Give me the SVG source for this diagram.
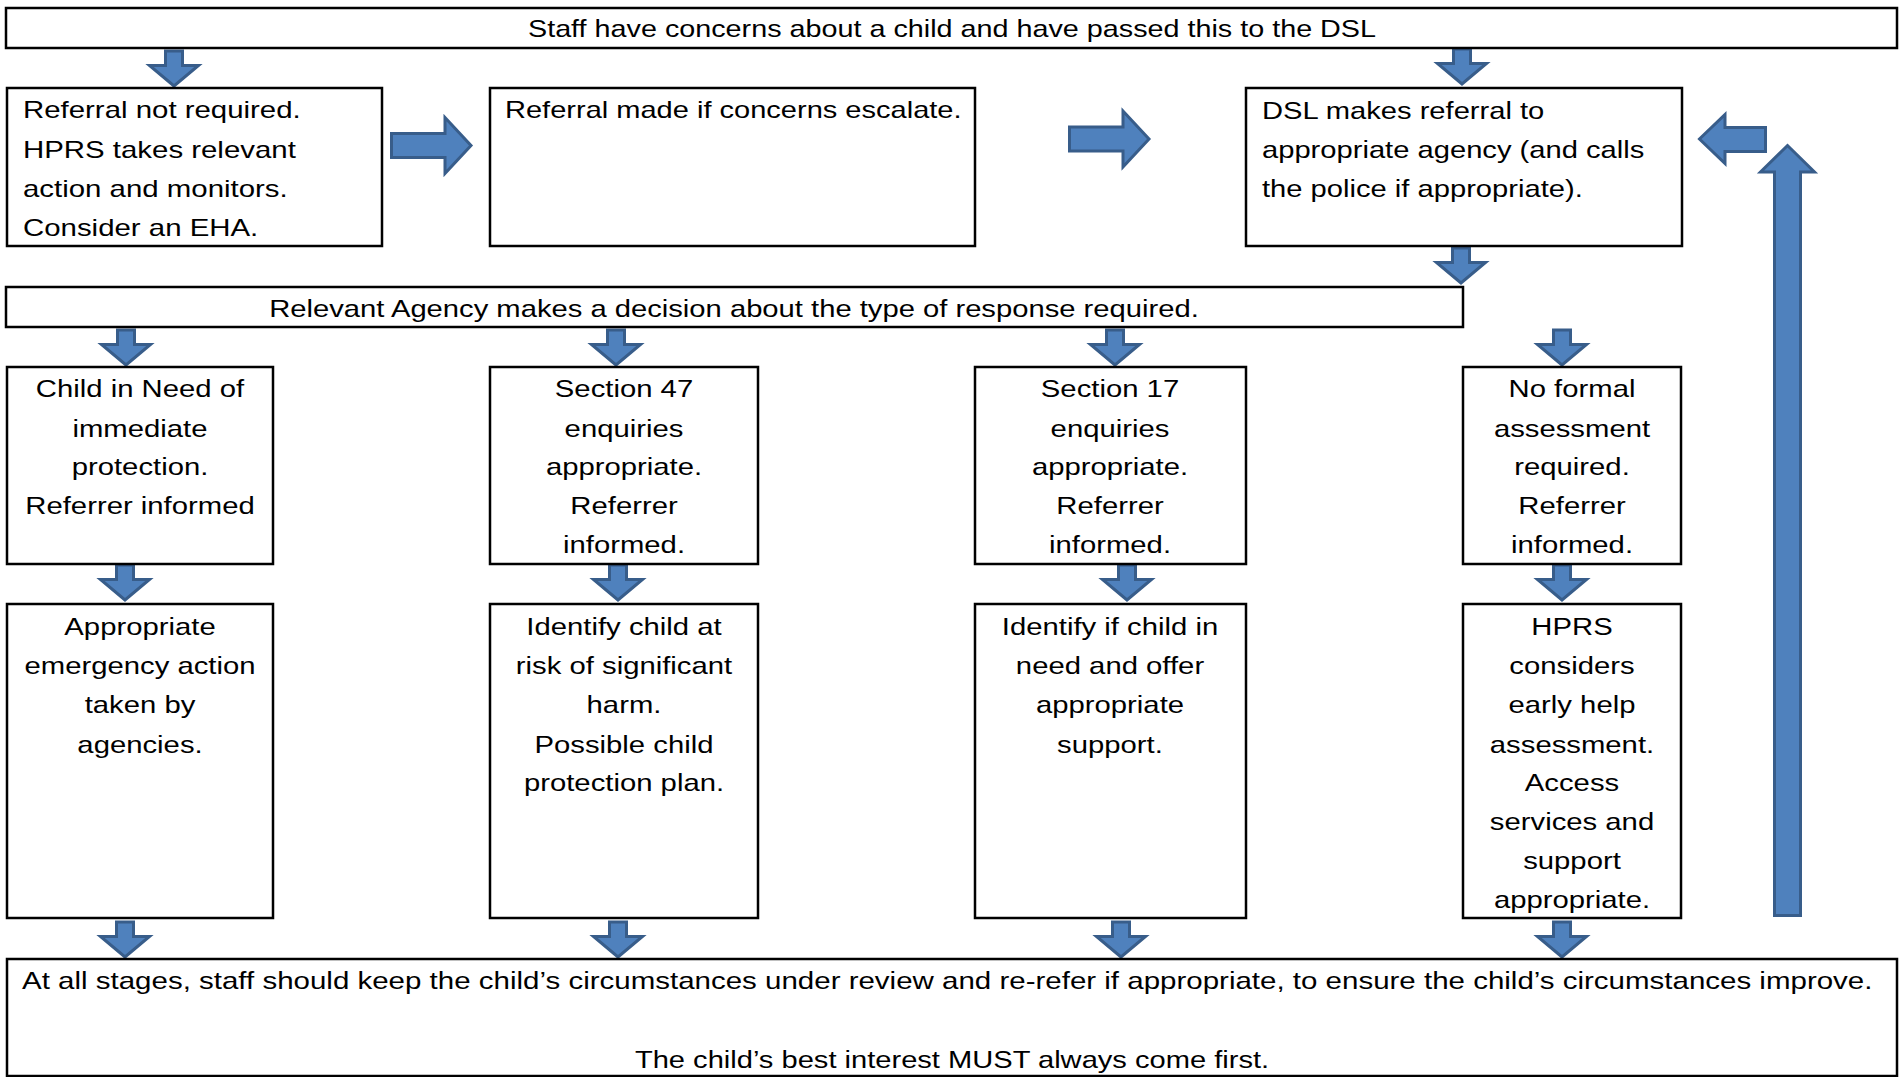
<svg xmlns="http://www.w3.org/2000/svg" width="1899" height="1077" viewBox="0 0 1899 1077">
<style>
.box{fill:#fff;stroke:#000;stroke-width:2.5}
.arr{fill:#4F81BD;stroke:#385D8A;stroke-width:3;stroke-linejoin:miter}
.t{font-family:"Liberation Sans",Arial,sans-serif;font-size:24px;fill:#000}
.c{text-anchor:middle}
</style>
<defs>
<path id="da" d="M-8.5,0 H8.5 V14.5 H24.5 L0,35 L-24.5,14.5 H-8.5 Z"/>
</defs>
<rect width="1899" height="1077" fill="#fff"/>
<g id="connectors" class="arr">
<use href="#da" x="174" y="51"/>
<use href="#da" x="1462" y="49"/>
<use href="#da" x="1461" y="248"/>
<use href="#da" x="126" y="330"/>
<use href="#da" x="616" y="330"/>
<use href="#da" x="1115" y="330"/>
<use href="#da" x="1562" y="330"/>
<use href="#da" x="125" y="565"/>
<use href="#da" x="618" y="565"/>
<use href="#da" x="1127" y="565"/>
<use href="#da" x="1562" y="565"/>
<use href="#da" x="125" y="922"/>
<use href="#da" x="618" y="922"/>
<use href="#da" x="1121" y="922"/>
<use href="#da" x="1562" y="922"/>
<path d="M391.5,133.5 H445 V117.5 L471,145.5 L445,173.5 V157.5 H391.5 Z"/>
<path d="M1069.5,127 H1123 V111 L1149,139 L1123,167 V151 H1069.5 Z"/>
<path d="M1765.5,127.5 H1725 V114.5 L1699.5,139 L1725,163.5 V151.5 H1765.5 Z"/>
<path d="M1774.5,915.5 V172 H1760.5 L1787.5,145.5 L1814.5,172 H1800.5 V915.5 Z"/>
</g>
<g id="n-start">
<rect class="box" x="6" y="8" width="1891" height="40"/>
<text class="t c" transform="matrix(1.215,0,0,1,952,0)" y="37" textLength="698" lengthAdjust="spacingAndGlyphs">Staff have concerns about a child and have passed this to the DSL</text>
</g>
<g id="n-noreferral">
<rect class="box" x="7" y="88" width="375" height="158"/>
<text class="t" transform="matrix(1.225,0,0,1,23,0)"><tspan x="0" y="118">Referral not required.</tspan><tspan x="0" y="158">HPRS takes relevant</tspan><tspan x="0" y="197">action and monitors.</tspan><tspan x="0" y="236">Consider an EHA.</tspan></text>
</g>
<g id="n-escalate">
<rect class="box" x="490" y="88" width="485" height="158"/>
<text class="t" transform="matrix(1.21,0,0,1,505,0)" y="118">Referral made if concerns escalate.</text>
</g>
<g id="n-dsl">
<rect class="box" x="1246" y="88" width="436" height="158"/>
<text class="t" transform="matrix(1.215,0,0,1,1262,0)"><tspan x="0" y="119">DSL makes referral to</tspan><tspan x="0" y="158">appropriate agency (and calls</tspan><tspan x="0" y="197">the police if appropriate).</tspan></text>
</g>
<g id="n-agency">
<rect class="box" x="6" y="287" width="1457" height="40"/>
<text class="t c" transform="matrix(1.215,0,0,1,734,0)" y="317" textLength="765" lengthAdjust="spacingAndGlyphs">Relevant Agency makes a decision about the type of response required.</text>
</g>
<g id="n-cin">
<rect class="box" x="7" y="367" width="266" height="197"/>
<text class="t c" transform="matrix(1.22,0,0,1,140,0)"><tspan x="0" y="397">Child in Need of</tspan><tspan x="0" y="437">immediate</tspan><tspan x="0" y="475">protection.</tspan><tspan x="0" y="514">Referrer informed</tspan></text>
</g>
<g id="n-s47">
<rect class="box" x="490" y="367" width="268" height="197"/>
<text class="t c" transform="matrix(1.22,0,0,1,624,0)"><tspan x="0" y="397">Section 47</tspan><tspan x="0" y="437">enquiries</tspan><tspan x="0" y="475">appropriate.</tspan><tspan x="0" y="514">Referrer</tspan><tspan x="0" y="553">informed.</tspan></text>
</g>
<g id="n-s17">
<rect class="box" x="975" y="367" width="271" height="197"/>
<text class="t c" transform="matrix(1.22,0,0,1,1110,0)"><tspan x="0" y="397">Section 17</tspan><tspan x="0" y="437">enquiries</tspan><tspan x="0" y="475">appropriate.</tspan><tspan x="0" y="514">Referrer</tspan><tspan x="0" y="553">informed.</tspan></text>
</g>
<g id="n-noformal">
<rect class="box" x="1463" y="367" width="218" height="197"/>
<text class="t c" transform="matrix(1.22,0,0,1,1572,0)"><tspan x="0" y="397">No formal</tspan><tspan x="0" y="437">assessment</tspan><tspan x="0" y="475">required.</tspan><tspan x="0" y="514">Referrer</tspan><tspan x="0" y="553">informed.</tspan></text>
</g>
<g id="n-emergency">
<rect class="box" x="7" y="604" width="266" height="314"/>
<text class="t c" transform="matrix(1.22,0,0,1,140,0)"><tspan x="0" y="635">Appropriate</tspan><tspan x="0" y="674">emergency action</tspan><tspan x="0" y="713">taken by</tspan><tspan x="0" y="753">agencies.</tspan></text>
</g>
<g id="n-harm">
<rect class="box" x="490" y="604" width="268" height="314"/>
<text class="t c" transform="matrix(1.22,0,0,1,624,0)"><tspan x="0" y="635">Identify child at</tspan><tspan x="0" y="674">risk of significant</tspan><tspan x="0" y="713">harm.</tspan><tspan x="0" y="753">Possible child</tspan><tspan x="0" y="791">protection plan.</tspan></text>
</g>
<g id="n-need">
<rect class="box" x="975" y="604" width="271" height="314"/>
<text class="t c" transform="matrix(1.22,0,0,1,1110,0)"><tspan x="0" y="635">Identify if child in</tspan><tspan x="0" y="674">need and offer</tspan><tspan x="0" y="713">appropriate</tspan><tspan x="0" y="753">support.</tspan></text>
</g>
<g id="n-earlyhelp">
<rect class="box" x="1463" y="604" width="218" height="314"/>
<text class="t c" transform="matrix(1.22,0,0,1,1572,0)"><tspan x="0" y="635">HPRS</tspan><tspan x="0" y="674">considers</tspan><tspan x="0" y="713">early help</tspan><tspan x="0" y="753">assessment.</tspan><tspan x="0" y="791">Access</tspan><tspan x="0" y="830">services and</tspan><tspan x="0" y="869">support</tspan><tspan x="0" y="908">appropriate.</tspan></text>
</g>
<g id="n-review">
<rect class="box" x="7" y="959" width="1890" height="117"/>
<text class="t" transform="matrix(1.215,0,0,1,22,0)" y="989" textLength="1523" lengthAdjust="spacingAndGlyphs">At all stages, staff should keep the child’s circumstances under review and re-refer if appropriate, to ensure the child’s circumstances improve.</text>
<text class="t c" transform="matrix(1.215,0,0,1,952,0)" y="1068" textLength="522" lengthAdjust="spacingAndGlyphs">The child’s best interest MUST always come first.</text>
</g>
</svg>
